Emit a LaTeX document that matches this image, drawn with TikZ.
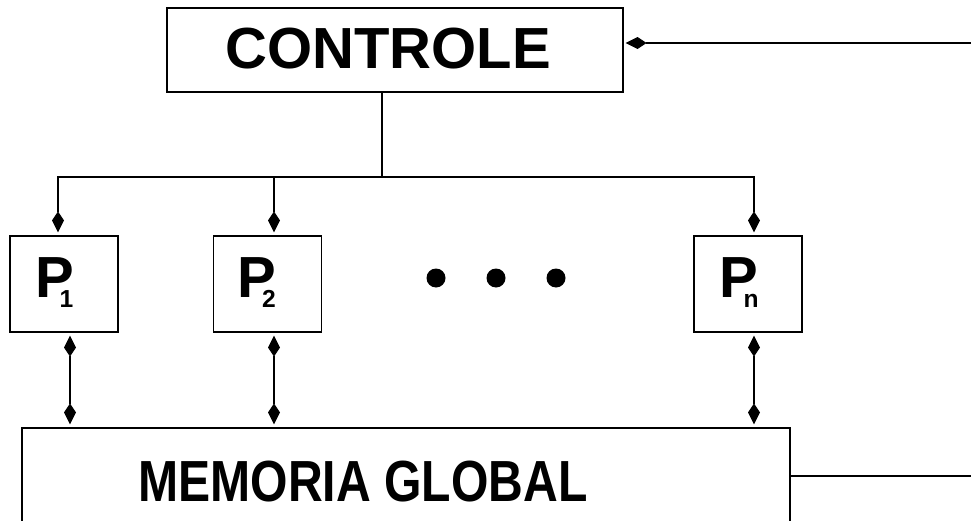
\documentclass[tikz,border=0pt]{standalone}
\usepackage{fontspec}
\setmainfont{Liberation Sans}
\usetikzlibrary{arrows.meta}

% processor label with its small index tucked under the P
\newcommand{\proclabel}[1]{P\kern-0.29cm\raisebox{-0.2cm}{\fontsize{14}{14}\selectfont #1}}

\begin{document}
\begin{tikzpicture}[
    box/.style={draw, line width=0.6pt, inner sep=0pt},
    bigtext/.style={font=\fontsize{33}{33}\selectfont\bfseries, inner sep=0pt},
    tip/.style={Kite[length=0.42cm, width=0.24cm, inset=0.18cm]},
    link/.style={line width=0.6pt, -{Kite[length=0.42cm, width=0.24cm, inset=0.18cm]}},
    duplex/.style={line width=0.6pt, {Kite[length=0.42cm, width=0.24cm, inset=0.18cm]}-{Kite[length=0.42cm, width=0.24cm, inset=0.18cm]}},
    dot/.style={circle, fill, inner sep=0pt, minimum size=0.38cm}
  ]
    \useasboundingbox (0,0) rectangle (19.42,-10.42);

    % First, the boxes and their texts
        \node[box, minimum width=9.12cm, minimum height=1.68cm] (ctrl) at (7.9,-1.0) {};
        \node[bigtext, anchor=base] (ctrltext) at (7.76,-1.36) {CONTROLE};
        \node[box, minimum width=2.16cm, minimum height=1.92cm] (p1) at (1.28,-5.68) {};
        \node[box, minimum width=2.16cm, minimum height=1.92cm] (p2) at (5.35,-5.68) {};
        \node[box, minimum width=2.16cm, minimum height=1.92cm] (pn) at (14.96,-5.68) {};
        \node[bigtext, anchor=base west] (p1text) at (0.7,-5.94) {\proclabel{1}};
        \node[bigtext, anchor=base west] (p2text) at (4.75,-5.94) {\proclabel{2}};
        \node[bigtext, anchor=base west] (pntext) at (14.38,-5.94) {\proclabel{n}};
        \node[box, minimum width=15.36cm, minimum height=2.64cm] (mem) at (8.12,-9.88) {};
        \node[bigtext, anchor=base, xscale=0.83] (memtext) at (7.26,-10.02) {MEMORIA GLOBAL};

    % the dots between P2 and Pn
        \node[dot] (dot1) at (8.72,-5.56) {};
        \node[dot] (dot2) at (9.92,-5.56) {};
        \node[dot] (dot3) at (11.12,-5.56) {};

    % free ends and bends of the wires
        \coordinate (in) at (19.42,-0.86);
        \coordinate (out) at (19.42,-9.52);
        \coordinate (split) at (7.64,-3.54);

    % Now draw the wires:
        \draw[link, shorten >=0.04cm] (in) -- (in -| ctrl.east);
        \draw[line width=0.6pt] (ctrl.south -| split) -- (split);
        \draw[link, shorten >=0.06cm] (split) -| (p1.north -| 1.16,0);
        \draw[link, shorten >=0.06cm] (split) -| (p2.north -| 5.48,0);
        \draw[link, shorten >=0.06cm] (split) -| (pn.north -| 15.08,0);
        \draw[duplex, shorten <=0.06cm, shorten >=0.06cm] (p1.south -| 1.4,0) -- (mem.north -| 1.4,0);
        \draw[duplex, shorten <=0.06cm, shorten >=0.06cm] (p2.south -| 5.48,0) -- (mem.north -| 5.48,0);
        \draw[duplex, shorten <=0.06cm, shorten >=0.06cm] (pn.south -| 15.08,0) -- (mem.north -| 15.08,0);
        \draw[line width=0.6pt] (mem.east |- out) -- (out);
\end{tikzpicture}
\end{document}
